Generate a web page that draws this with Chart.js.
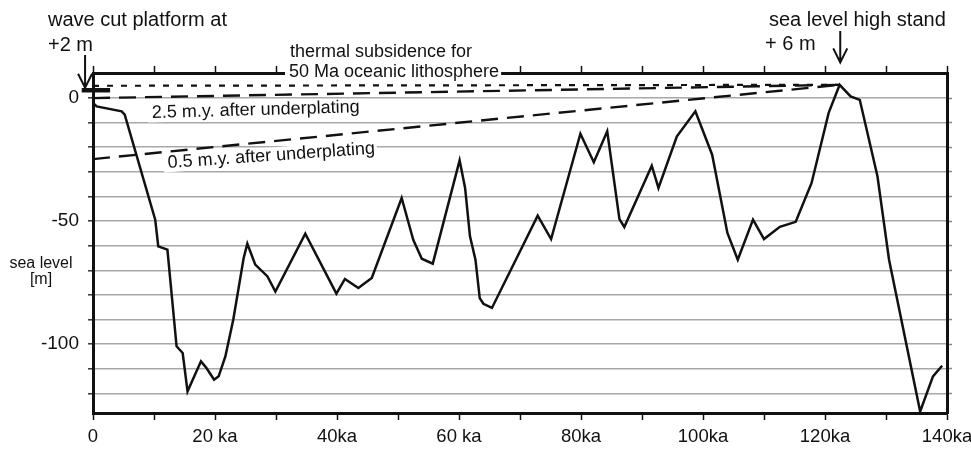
<!DOCTYPE html>
<html>
<head>
<meta charset="utf-8">
<script src="https://cdn.jsdelivr.net/npm/chart.js@4.4.0/dist/chart.umd.min.js"></script>
<style>
  html, body { margin: 0; padding: 0; background: #fff; }
</style>
</head>
<body>
<canvas id="chart" width="971" height="451"></canvas>
<script>
// Sea level curve (age in ka, level in m)
const ageKa = [0, 0.6, 4.7, 5.2, 10.2, 10.7, 12.2, 13.7, 14.7, 15.5, 17.7, 18.6, 19.85, 20.6, 21.7, 23.0,
    24.7, 25.3, 26.6, 28.6, 29.9, 34.8, 39.9, 41.3, 43.5, 45.7, 50.6, 52.5, 53.9, 55.7, 60.1, 61.0, 61.8,
    62.7, 63.4, 64.0, 65.4, 72.9, 75.1, 79.9, 82.1, 84.3, 86.3, 87.1, 91.6, 92.7, 95.7, 98.75, 101.5,
    104.0, 105.7, 108.2, 110.0, 112.6, 115.2, 117.8, 120.6, 122.4, 124.2, 125.7, 128.6, 130.5, 135.6,
    137.7, 139.2];
const seaLevel = [-2, -3.4, -5.4, -6.7, -49.4, -60.3, -61.6, -100.9, -103.6, -119.2, -107, -109.7, -114.5, -113.1, -105, -90,
    -65, -59.2, -67.7, -72.5, -78.6, -55.1, -79.5, -73.5, -77.2, -73.1, -40.6, -57.6, -65.3, -67.3, -25.3, -36.5, -56.2,
    -65.7, -81.3, -83.6, -85.3, -47.8, -57.3, -14.5, -26.1, -13.5, -49.2, -52.4, -27.5, -36.5, -15.6, -5.4, -23,
    -54.8, -65.7, -49.4, -57.3, -52.3, -50.3, -34.5, -6, 5.4, 0.7, -0.7, -31.8, -65.7, -127.4,
    -113.1, -108.8];

// Projection lines from the +6 m high stand back to today
const projAge = [0, 122.4];
const thermalLevel = [5.0, 5.4];
const after25Level = [0, 5.4];
const after05Level = [-24.8, 5.4];

// Wave cut platform marker
const platformAge = [-1.85, 2.8];
const platformLevel = [3.2, 3.2];

// Axes
const xTickValues = [0, 10, 20, 30, 40, 50, 60, 70, 80, 90, 100, 110, 120, 130, 140];
const xTickLabels = ['0', '', '20 ka', '', '40ka', '', '60 ka', '', '80ka', '', '100ka', '', '120ka', '', '140ka'];
const yTickValues = [-120, -110, -100, -90, -80, -70, -60, -50, -40, -30, -20, -10, 0];
const yTickLabels = ['', '', '-100', '', '', '', '', '-50', '', '', '', '', '0'];

function toPoints(xs, ys) {
    return xs.map((x, i) => ({ x: x, y: ys[i] }));
}

Chart.defaults.font.family = '"Liberation Sans", Arial, Helvetica, sans-serif';
Chart.defaults.color = '#111';

// Draws one label, optionally rotated and on a white box
function label(ctx, text, x, y, size, angle, bg) {
    ctx.save();
    ctx.translate(x, y);
    ctx.rotate(angle * Math.PI / 180);
    ctx.font = size + 'px "Liberation Sans", Arial, sans-serif';
    if (bg) {
        const w = ctx.measureText(text).width;
        ctx.fillStyle = '#fff';
        ctx.fillRect(-4, -size * 0.74, w + 6, size * 0.98);
    }
    ctx.fillStyle = '#111';
    ctx.textBaseline = 'alphabetic';
    ctx.fillText(text, 0, 0);
    ctx.restore();
}

// Down arrow with an open head, tip placed at a data value
function arrow(ctx, x, yTop, yTip) {
    ctx.save();
    ctx.strokeStyle = '#111';
    ctx.lineWidth = 2;
    ctx.beginPath();
    ctx.moveTo(x, yTop);
    ctx.lineTo(x, yTip);
    ctx.moveTo(x - 7, yTip - 14);
    ctx.lineTo(x, yTip);
    ctx.lineTo(x + 7, yTip - 14);
    ctx.stroke();
    ctx.restore();
}

const notes = {
    id: 'notes',
    afterDraw(chart) {
        const ctx = chart.ctx;
        const sx = chart.scales.x, sy = chart.scales.y;

        label(ctx, 'wave cut platform at', 48, 26, 20, 0, false);
        label(ctx, '+2 m', 48, 51, 20, 0, false);
        arrow(ctx, sx.getPixelForValue(-1.3), 55, sy.getPixelForValue(4.2));

        label(ctx, 'sea level high stand', 769, 26, 20, 0, false);
        label(ctx, '+ 6 m', 765, 50, 20, 0, false);
        arrow(ctx, sx.getPixelForValue(122.5), 31, sy.getPixelForValue(14.5));

        label(ctx, 'thermal subsidence for', 290, 57, 18, 0, false);
        label(ctx, '50 Ma oceanic lithosphere', 289, 77, 18, 0, true);

        label(ctx, '2.5 m.y. after underplating', 152, 118, 18, -1.6, true);
        label(ctx, '0.5 m.y. after underplating', 168, 168, 18, -4, true);

        ctx.save();
        ctx.font = '16px "Liberation Sans", Arial, sans-serif';
        ctx.fillStyle = '#111';
        ctx.textAlign = 'center';
        ctx.fillText('sea level', 41, 268);
        ctx.fillText('[m]', 41, 284);
        ctx.restore();
    }
};

const lineBase = { borderColor: '#111', pointRadius: 0, tension: 0, fill: false };

// Fixed axis sizes so the plot frame lands where the figure has it
function fixX(size) {
    return s => { s.height = size; s.paddingLeft = 0; s.paddingRight = 0; };
}
function fixY(size) {
    return s => { s.width = size; s.paddingTop = 0; s.paddingBottom = 0; };
}

new Chart(document.getElementById('chart'), {
    type: 'line',
    data: {
        datasets: [
            Object.assign({ data: toPoints(ageKa, seaLevel), borderWidth: 2.5 }, lineBase),
            Object.assign({ data: toPoints(projAge, thermalLevel), borderWidth: 2.2, borderDash: [6, 8] }, lineBase),
            Object.assign({ data: toPoints(projAge, after25Level), borderWidth: 2.4, borderDash: [17, 9] }, lineBase),
            Object.assign({ data: toPoints(projAge, after05Level), borderWidth: 2.4, borderDash: [17, 9] }, lineBase),
            Object.assign({ data: toPoints(platformAge, platformLevel), borderWidth: 4.5, clip: false }, lineBase)
        ]
    },
    options: {
        responsive: false,
        animation: false,
        events: [],
        layout: { padding: 0 },
        plugins: {
            legend: { display: false },
            tooltip: { enabled: false }
        },
        scales: {
            x: {
                type: 'linear',
                position: 'bottom',
                min: 0,
                max: 140,
                afterBuildTicks: s => { s.ticks = xTickValues.map(v => ({ value: v })); },
                afterFit: fixX(38),
                ticks: {
                    autoSkip: false,
                    maxRotation: 0,
                    padding: 6,
                    font: { size: 18.5 },
                    callback: (v, i) => xTickLabels[i]
                },
                grid: { drawOnChartArea: false, tickLength: 7, tickColor: '#111', tickWidth: 1.5 },
                border: { color: '#111', width: 3 }
            },
            xTop: {
                type: 'linear',
                position: 'top',
                min: 0,
                max: 140,
                afterBuildTicks: s => { s.ticks = xTickValues.map(v => ({ value: v })); },
                afterFit: fixX(73),
                ticks: { autoSkip: false, maxRotation: 0, callback: () => '' },
                grid: { drawOnChartArea: false, tickLength: 7, tickColor: '#111', tickWidth: 1.5 },
                border: { color: '#111', width: 3 }
            },
            y: {
                type: 'linear',
                position: 'left',
                min: -128,
                max: 10.2,
                afterBuildTicks: s => { s.ticks = yTickValues.map(v => ({ value: v })); },
                afterFit: fixY(93),
                ticks: {
                    autoSkip: false,
                    padding: 9,
                    font: { size: 19 },
                    callback: (v, i) => yTickLabels[i]
                },
                grid: { color: '#a8a8a8', lineWidth: 1.6, tickLength: 5, tickColor: '#333', tickWidth: 1.5 },
                border: { color: '#111', width: 3 }
            },
            yRight: {
                type: 'linear',
                position: 'right',
                min: -128,
                max: 10.2,
                afterBuildTicks: s => { s.ticks = yTickValues.map(v => ({ value: v })); },
                afterFit: fixY(24),
                ticks: { autoSkip: false, callback: () => '' },
                grid: { drawOnChartArea: false, tickLength: 5, tickColor: '#888', tickWidth: 1.5 },
                border: { color: '#111', width: 3 }
            }
        }
    },
    plugins: [notes]
});
</script>
</body>
</html>
